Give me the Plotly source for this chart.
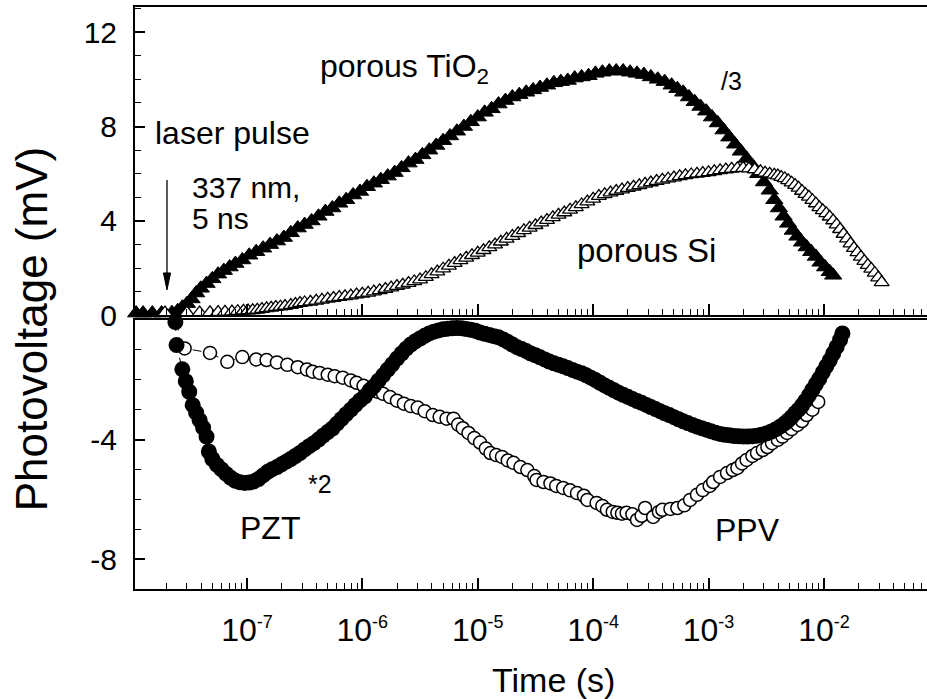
import plotly.graph_objects as go

# ---------------- data (time as log10(t / s), photovoltage in mV) ----------------
tio2_logt = [-7.96, -7.90, -7.82, -7.74, -7.65, -7.60, -7.56, -7.52, -7.48, -7.44,
             -7.40, -7.35, -7.30, -7.25, -7.20, -7.15, -7.10, -7.04, -6.98, -6.92,
             -6.86, -6.80, -6.74, -6.68, -6.62, -6.56, -6.50, -6.44, -6.38, -6.32,
             -6.26, -6.20, -6.14, -6.08, -6.02, -5.96, -5.90, -5.84, -5.78, -5.72,
             -5.66, -5.60, -5.54, -5.48, -5.42, -5.36, -5.30, -5.24, -5.18, -5.12,
             -5.06, -5.00, -4.94, -4.88, -4.82, -4.76, -4.70, -4.64, -4.58, -4.52,
             -4.46, -4.40, -4.34, -4.28, -4.22, -4.16, -4.10, -4.04, -3.98, -3.92,
             -3.86, -3.80, -3.74, -3.68, -3.62, -3.56, -3.50, -3.44, -3.38, -3.32,
             -3.27, -3.22, -3.17, -3.12, -3.07, -3.02, -2.97, -2.92, -2.87, -2.82,
             -2.77, -2.72, -2.67, -2.62, -2.57, -2.52, -2.47, -2.43, -2.39, -2.35,
             -2.31, -2.27, -2.23, -2.19, -2.15, -2.11, -2.07, -2.03, -1.99, -1.95, -1.92]
tio2_mv = [0.10, 0.10, 0.10, 0.10, 0.12, 0.20, 0.35, 0.50, 0.70, 0.95,
           1.15, 1.35, 1.55, 1.75, 1.90, 2.05, 2.20, 2.35, 2.55, 2.70,
           2.85, 3.00, 3.15, 3.30, 3.50, 3.70, 3.85, 4.00, 4.20, 4.40,
           4.55, 4.75, 4.90, 5.10, 5.25, 5.45, 5.60, 5.75, 5.90, 6.05,
           6.25, 6.45, 6.60, 6.80, 7.00, 7.20, 7.40, 7.60, 7.80, 8.00,
           8.20, 8.40, 8.60, 8.75, 8.95, 9.10, 9.25, 9.35, 9.45, 9.55,
           9.65, 9.75, 9.85, 9.90, 9.95, 10.05, 10.10, 10.15, 10.25, 10.30,
           10.35, 10.35, 10.35, 10.30, 10.25, 10.20, 10.10, 10.00, 9.90, 9.75,
           9.60, 9.45, 9.25, 9.05, 8.85, 8.65, 8.40, 8.15, 7.85, 7.55,
           7.25, 6.95, 6.65, 6.35, 6.00, 5.65, 5.30, 4.90, 4.55, 4.20,
           3.90, 3.60, 3.35, 3.10, 2.90, 2.70, 2.50, 2.25, 2.05, 1.85, 1.70]

si_logt = [-7.71, -7.52, -7.41, -7.32, -7.25, -7.19, -7.13, -7.08, -7.03, -6.99,
           -6.95, -6.91, -6.87, -6.83, -6.79, -6.75, -6.71, -6.67, -6.62, -6.58,
           -6.54, -6.50, -6.45, -6.40, -6.35, -6.30, -6.25, -6.20, -6.15, -6.10,
           -6.05, -6.00, -5.95, -5.90, -5.85, -5.80, -5.75, -5.70, -5.65, -5.60,
           -5.55, -5.50, -5.45, -5.40, -5.35, -5.30, -5.25, -5.20, -5.15, -5.10,
           -5.05, -5.00, -4.95, -4.90, -4.85, -4.80, -4.75, -4.70, -4.65, -4.60,
           -4.55, -4.50, -4.45, -4.40, -4.35, -4.30, -4.25, -4.20, -4.15, -4.10,
           -4.05, -4.00, -3.95, -3.90, -3.85, -3.80, -3.75, -3.70, -3.65, -3.60,
           -3.55, -3.50, -3.45, -3.40, -3.35, -3.30, -3.25, -3.20, -3.15, -3.10,
           -3.05, -3.00, -2.95, -2.90, -2.85, -2.80, -2.75, -2.70, -2.65, -2.60,
           -2.55, -2.51, -2.47, -2.43, -2.40, -2.37, -2.34, -2.31, -2.28, -2.25,
           -2.22, -2.19, -2.16, -2.13, -2.10, -2.07, -2.04, -2.01, -1.98, -1.95,
           -1.92, -1.89, -1.86, -1.83, -1.80, -1.77, -1.74, -1.71, -1.68, -1.65,
           -1.62, -1.59, -1.56, -1.53, -1.50]
si_mv = [0.12, 0.12, 0.12, 0.13, 0.14, 0.15, 0.16, 0.18, 0.20, 0.21,
         0.22, 0.24, 0.27, 0.30, 0.32, 0.35, 0.37, 0.40, 0.44, 0.48,
         0.52, 0.55, 0.58, 0.62, 0.66, 0.70, 0.74, 0.78, 0.81, 0.84,
         0.88, 0.92, 0.96, 1.01, 1.06, 1.12, 1.18, 1.24, 1.30, 1.37,
         1.44, 1.52, 1.62, 1.74, 1.86, 1.98, 2.10, 2.22, 2.33, 2.44,
         2.55, 2.65, 2.76, 2.88, 3.00, 3.12, 3.24, 3.36, 3.48, 3.60,
         3.71, 3.82, 3.93, 4.04, 4.15, 4.26, 4.36, 4.47, 4.58, 4.70,
         4.82, 4.94, 5.05, 5.13, 5.20, 5.27, 5.33, 5.39, 5.45, 5.51,
         5.57, 5.63, 5.69, 5.74, 5.79, 5.84, 5.89, 5.93, 5.97, 6.00,
         6.03, 6.06, 6.10, 6.14, 6.18, 6.21, 6.23, 6.24, 6.22, 6.18,
         6.10, 6.04, 6.00, 5.95, 5.92, 5.86, 5.80, 5.72, 5.62, 5.52,
         5.40, 5.27, 5.14, 5.02, 4.88, 4.74, 4.58, 4.45, 4.32, 4.18,
         4.02, 3.85, 3.65, 3.45, 3.25, 3.04, 2.85, 2.67, 2.48, 2.30,
         2.13, 1.97, 1.80, 1.60, 1.40]

pzt_logt = [-7.62, -7.61, -7.56, -7.53, -7.50, -7.47, -7.44, -7.41, -7.38, -7.35,
            -7.33, -7.30, -7.26, -7.22, -7.18, -7.14, -7.10, -7.06, -7.02, -6.98,
            -6.94, -6.90, -6.86, -6.82, -6.78, -6.74, -6.70, -6.66, -6.62, -6.58,
            -6.54, -6.50, -6.46, -6.42, -6.38, -6.34, -6.30, -6.26, -6.22, -6.18,
            -6.14, -6.10, -6.06, -6.02, -5.98, -5.94, -5.90, -5.86, -5.82, -5.78,
            -5.74, -5.70, -5.66, -5.62, -5.58, -5.54, -5.50, -5.46, -5.42, -5.38,
            -5.34, -5.30, -5.26, -5.22, -5.18, -5.14, -5.10, -5.06, -5.02, -4.98,
            -4.94, -4.90, -4.86, -4.82, -4.78, -4.74, -4.70, -4.66, -4.62, -4.58,
            -4.54, -4.50, -4.46, -4.42, -4.38, -4.34, -4.30, -4.26, -4.22, -4.18,
            -4.14, -4.10, -4.06, -4.02, -3.98, -3.94, -3.90, -3.86, -3.82, -3.78,
            -3.74, -3.70, -3.66, -3.62, -3.58, -3.54, -3.50, -3.46, -3.42, -3.38,
            -3.34, -3.30, -3.26, -3.22, -3.18, -3.14, -3.10, -3.06, -3.02, -2.98,
            -2.94, -2.90, -2.86, -2.82, -2.78, -2.74, -2.70, -2.66, -2.62, -2.58,
            -2.54, -2.50, -2.46, -2.42, -2.38, -2.34, -2.31, -2.28, -2.25, -2.22,
            -2.19, -2.16, -2.13, -2.10, -2.07, -2.04, -2.01, -1.98, -1.95, -1.92,
            -1.89, -1.86, -1.84]
pzt_mv = [-0.07, -0.84, -1.65, -2.05, -2.40, -2.85, -3.10, -3.35, -3.60, -3.90,
          -4.40, -4.65, -4.85, -5.00, -5.15, -5.28, -5.38, -5.43, -5.45, -5.44,
          -5.40, -5.32, -5.20, -5.08, -4.99, -4.92, -4.83, -4.74, -4.65, -4.55,
          -4.45, -4.33, -4.22, -4.12, -4.00, -3.87, -3.75, -3.63, -3.47, -3.31,
          -3.15, -3.00, -2.84, -2.69, -2.56, -2.38, -2.22, -2.03, -1.85, -1.66,
          -1.48, -1.29, -1.12, -0.96, -0.82, -0.71, -0.62, -0.53, -0.45, -0.39,
          -0.35, -0.31, -0.29, -0.28, -0.27, -0.28, -0.30, -0.33, -0.36, -0.42,
          -0.46, -0.50, -0.54, -0.58, -0.65, -0.73, -0.82, -0.91, -0.97, -1.04,
          -1.12, -1.18, -1.25, -1.32, -1.39, -1.45, -1.50, -1.55, -1.61, -1.67,
          -1.73, -1.78, -1.85, -1.93, -2.01, -2.10, -2.19, -2.27, -2.35, -2.43,
          -2.50, -2.57, -2.64, -2.71, -2.77, -2.84, -2.91, -2.98, -3.05, -3.12,
          -3.18, -3.25, -3.32, -3.39, -3.45, -3.51, -3.57, -3.62, -3.67, -3.72,
          -3.77, -3.81, -3.84, -3.86, -3.88, -3.89, -3.90, -3.90, -3.89, -3.87,
          -3.84, -3.80, -3.74, -3.66, -3.57, -3.46, -3.36, -3.25, -3.12, -3.00,
          -2.86, -2.70, -2.52, -2.33, -2.15, -1.96, -1.75, -1.55, -1.35, -1.12,
          -0.90, -0.66, -0.45]

ppv_logt = [-7.62, -7.54, -7.32, -7.17, -7.04, -6.92, -6.83, -6.74, -6.65, -6.56,
            -6.48, -6.43, -6.37, -6.30, -6.24, -6.17, -6.10, -6.05, -5.99, -5.93,
            -5.87, -5.82, -5.76, -5.70, -5.64, -5.58, -5.52, -5.46, -5.39, -5.33,
            -5.27, -5.21, -5.17, -5.13, -5.08, -5.03, -4.98, -4.93, -4.89, -4.84,
            -4.79, -4.74, -4.69, -4.63, -4.57, -4.51, -4.49, -4.43, -4.37, -4.32,
            -4.26, -4.20, -4.14, -4.08, -4.05, -3.97, -3.92, -3.88, -3.83, -3.79,
            -3.75, -3.71, -3.66, -3.62, -3.58, -3.55, -3.48, -3.43, -3.40, -3.33,
            -3.27, -3.21, -3.16, -3.10, -3.05, -2.99, -2.96, -2.90, -2.84, -2.79,
            -2.75, -2.71, -2.67, -2.62, -2.58, -2.53, -2.49, -2.45, -2.40, -2.36,
            -2.32, -2.28, -2.23, -2.19, -2.15, -2.10, -2.05]
ppv_mv = [-0.07, -0.95, -1.10, -1.40, -1.24, -1.32, -1.34, -1.42, -1.50, -1.58,
          -1.66, -1.73, -1.77, -1.83, -1.88, -1.93, -2.02, -2.10, -2.20, -2.30,
          -2.40, -2.47, -2.58, -2.70, -2.80, -2.88, -2.93, -3.05, -3.18, -3.24,
          -3.30, -3.30, -3.50, -3.62, -3.78, -3.95, -4.10, -4.30, -4.45, -4.52,
          -4.58, -4.70, -4.78, -4.92, -5.02, -5.22, -5.35, -5.42, -5.47, -5.55,
          -5.62, -5.70, -5.79, -5.88, -6.02, -6.12, -6.22, -6.35, -6.42, -6.45,
          -6.48, -6.45, -6.50, -6.69, -6.55, -6.29, -6.59, -6.42, -6.35, -6.32,
          -6.29, -6.20, -6.02, -5.85, -5.69, -5.55, -5.42, -5.25, -5.12, -5.02,
          -4.95, -4.80, -4.68, -4.55, -4.45, -4.35, -4.25, -4.12, -4.01, -3.90,
          -3.78, -3.65, -3.51, -3.38, -3.18, -3.00, -2.74]

decade_labels = [-7, -6, -5, -4, -3, -2]
upper_ticks = [0, 4, 8, 12]
lower_ticks = [-8, -4]


def seconds(logs):
    return [10 ** v for v in logs]


FONT = "Liberation Sans, Arial, sans-serif"

fig = go.Figure()

fig.add_trace(go.Scatter(
    x=seconds(tio2_logt), y=tio2_mv, mode="markers", xaxis="x", yaxis="y",
    marker=dict(symbol="triangle-up", size=15, color="black",
                line=dict(color="black", width=1)),
    cliponaxis=False, showlegend=False))
fig.add_trace(go.Scatter(
    x=seconds(si_logt), y=si_mv, mode="markers", xaxis="x", yaxis="y",
    marker=dict(symbol="triangle-up", size=13, color="white",
                line=dict(color="black", width=1.3)),
    cliponaxis=False, showlegend=False))
fig.add_trace(go.Scatter(
    x=seconds(ppv_logt), y=ppv_mv, mode="lines+markers", xaxis="x2", yaxis="y2",
    line=dict(color="black", width=1, dash="dash"),
    marker=dict(symbol="circle", size=13, color="white",
                line=dict(color="black", width=1.5)),
    cliponaxis=False, showlegend=False))
fig.add_trace(go.Scatter(
    x=seconds(pzt_logt), y=pzt_mv, mode="lines+markers", xaxis="x2", yaxis="y2",
    line=dict(color="black", width=1, dash="dash"),
    marker=dict(symbol="circle", size=16, color="black"),
    cliponaxis=False, showlegend=False))

x_range = [-7.97, -1.107]
major_vals = [10.0 ** d for d in range(-8, 0)]
minor_vals = [m * 10.0 ** d for d in range(-8, 0) for m in range(2, 10)]

common_x = dict(
    type="log", range=x_range, showline=True, linecolor="black", linewidth=2,
    mirror=True, ticks="inside", ticklen=11, tickwidth=1.5, tickcolor="black",
    showgrid=False, zeroline=False,
    minor=dict(ticks="inside", ticklen=6, tickwidth=1.2, tickcolor="black",
               tickmode="array", tickvals=minor_vals, showgrid=False),
)

fig.update_layout(
    width=927, height=699,
    margin=dict(l=135, r=0, t=7, b=110),
    paper_bgcolor="white", plot_bgcolor="white",
    font=dict(family=FONT, color="black"),
    xaxis=dict(anchor="y", tickmode="array", tickvals=major_vals,
               showticklabels=False, **common_x),
    xaxis2=dict(anchor="y2", matches="x", tickmode="array",
                tickvals=[10.0 ** d for d in decade_labels],
                ticktext=["10<sup><span style='font-size:18px'>%d</span></sup>" % d
                          for d in decade_labels],
                tickfont=dict(size=32, family=FONT),
                ticklabelstandoff=12,
                **common_x),
    yaxis=dict(domain=[0.470, 1.0], anchor="x", range=[0, 13.06],
               tickmode="array", tickvals=upper_ticks,
               ticktext=[str(v) for v in upper_ticks],
               showline=True, linecolor="black", linewidth=2,
               ticks="inside", ticklen=10, tickwidth=1.5, tickcolor="black",
               minor=dict(ticks="inside", ticklen=6, tickwidth=1.2,
                          tickcolor="black", dtick=1, showgrid=False),
               tickfont=dict(size=30, family=FONT), ticklabelstandoff=10,
               showgrid=False, zeroline=False),
    yaxis2=dict(domain=[0.0, 0.4622], anchor="x2", range=[-9, 0],
                tickmode="array", tickvals=lower_ticks,
                ticktext=[str(v) for v in lower_ticks],
                showline=True, linecolor="black", linewidth=2,
                ticks="inside", ticklen=10, tickwidth=1.5, tickcolor="black",
                minor=dict(ticks="inside", ticklen=6, tickwidth=1.2,
                           tickcolor="black", dtick=1, showgrid=False),
                tickfont=dict(size=30, family=FONT), ticklabelstandoff=10,
                showgrid=False, zeroline=False),
)

# text labels on the plot
labels = [
    ("porous TiO<sub>2</sub>", 0.231, 0.895, 32),
    ("/3", 0.737, 0.873, 25),
    ("laser pulse", 0.023, 0.7835, 32),
    ("337 nm,", 0.069, 0.690, 30),
    ("5 ns", 0.069, 0.637, 30),
    ("porous Si", 0.556, 0.581, 33),
    ("*2", 0.216, 0.180, 25),
    ("PZT", 0.130, 0.105, 32),
    ("PPV", 0.730, 0.101, 32),
]
for text, x, y, size in labels:
    fig.add_annotation(text=text, x=x, y=y, xref="paper", yref="paper",
                       xanchor="left", yanchor="middle", showarrow=False,
                       font=dict(size=size, family=FONT, color="black"))

fig.add_annotation(text="Time (s)", x=0.529, y=-0.1555, xref="paper", yref="paper",
                   xanchor="center", yanchor="middle", showarrow=False,
                   font=dict(size=34, family=FONT, color="black"))
fig.add_annotation(text="Photovoltage (mV)", x=-0.131, y=0.4467, xref="paper",
                   yref="paper", xanchor="center", yanchor="middle", textangle=-90,
                   showarrow=False, font=dict(size=44, family=FONT, color="black"))

# laser pulse arrow
arrow_x = 0.0404
fig.add_shape(type="line", xref="paper", yref="y", x0=arrow_x, x1=arrow_x,
              y0=5.73, y1=1.7, line=dict(color="black", width=1.3))
fig.add_shape(type="path", xref="paper", yref="y",
              path="M %f,1.80 L %f,1.08 L %f,1.80 Z" % (arrow_x - 0.0045, arrow_x, arrow_x + 0.0045),
              fillcolor="black", line=dict(color="black", width=1))

fig.write_html("out.html")
